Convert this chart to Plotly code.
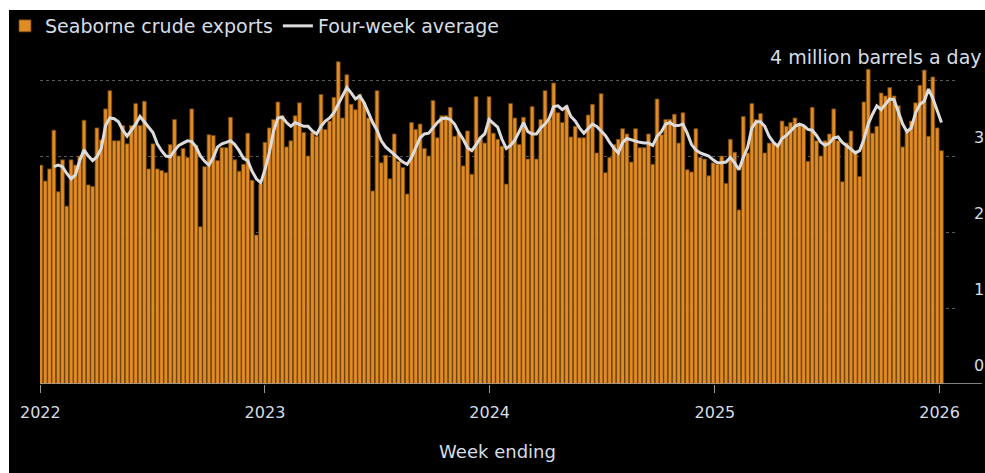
import pandas as pd
import plotly.graph_objects as go

# Weekly seaborne crude exports (million barrels a day), week ending Sundays
exports_2022 = [2.88, 2.67, 2.83, 3.34, 2.53, 2.95, 2.34, 2.95, 2.88, 3.00, 3.47, 2.62, 2.60,
                3.37, 3.21, 3.62, 3.86, 3.20, 3.20, 3.40, 3.16, 3.40, 3.69, 3.40, 3.72, 2.83,
                3.16, 2.83, 2.81, 2.78, 3.15, 3.48, 3.00, 3.10, 2.98, 3.62, 3.14, 2.07, 2.86,
                3.28, 3.27, 2.94, 3.11, 3.11, 3.51, 2.95, 2.80, 2.89, 3.30, 2.68, 1.96, 2.63]
exports_2023 = [3.18, 3.37, 3.48, 3.71, 3.53, 3.12, 3.20, 3.53, 3.70, 3.31, 3.00, 3.31, 3.26,
                3.81, 3.35, 3.46, 3.77, 4.24, 3.50, 4.07, 3.68, 3.61, 3.81, 3.70, 3.50, 2.54,
                3.86, 2.91, 3.01, 2.70, 3.29, 2.93, 2.85, 2.50, 3.44, 3.35, 3.42, 3.10, 3.00,
                3.73, 3.24, 3.53, 3.53, 3.64, 3.26, 3.31, 2.87, 3.33, 2.76, 3.78, 3.24, 3.17]
exports_2024 = [3.78, 3.30, 3.22, 3.13, 2.63, 3.69, 3.50, 3.15, 3.51, 2.96, 3.65, 2.96, 3.48,
                3.86, 3.48, 3.96, 3.57, 3.44, 3.66, 3.25, 3.39, 3.24, 3.24, 3.54, 3.68, 3.04,
                3.82, 2.78, 2.98, 3.15, 3.22, 3.36, 3.29, 2.92, 3.36, 3.11, 3.11, 3.29, 2.89,
                3.75, 3.28, 3.48, 3.48, 3.55, 3.17, 3.57, 2.82, 2.79, 3.36, 2.98, 2.96, 2.74]
exports_2025 = [2.91, 2.89, 3.00, 2.64, 3.22, 3.05, 2.29, 3.52, 3.04, 3.69, 3.48, 3.56, 3.04,
                3.17, 3.17, 3.15, 3.46, 3.39, 3.44, 3.50, 3.42, 3.39, 2.93, 3.64, 3.20, 3.00,
                3.20, 3.29, 3.62, 3.20, 2.66, 3.17, 3.33, 3.07, 2.73, 3.71, 4.14, 3.30, 3.39,
                3.83, 3.79, 3.90, 3.79, 3.66, 3.12, 3.35, 3.46, 3.70, 3.93, 4.13, 3.26, 4.04,
                3.37, 3.07]

# Four-week average line
avg_2022 = [None, None, None, 2.86, 2.88, 2.86, 2.77, 2.70, 2.75, 2.94, 3.08, 3.00, 2.94,
            2.99, 3.10, 3.40, 3.50, 3.49, 3.45, 3.34, 3.26, 3.34, 3.42, 3.52, 3.45, 3.38,
            3.31, 3.16, 3.07, 3.00, 2.99, 3.07, 3.14, 3.17, 3.20, 3.19, 3.12, 3.00, 2.93,
            2.88, 2.98, 3.12, 3.16, 3.18, 3.20, 3.15, 3.07, 2.97, 2.94, 2.80, 2.70, 2.65]
avg_2023 = [2.82, 3.04, 3.33, 3.50, 3.51, 3.44, 3.39, 3.44, 3.42, 3.39, 3.39, 3.33, 3.29,
            3.39, 3.46, 3.50, 3.57, 3.68, 3.79, 3.90, 3.83, 3.75, 3.79, 3.70, 3.57, 3.44,
            3.34, 3.20, 3.12, 3.07, 3.02, 2.98, 2.92, 2.89, 2.98, 3.11, 3.24, 3.29, 3.30,
            3.37, 3.44, 3.49, 3.50, 3.48, 3.42, 3.31, 3.22, 3.11, 3.07, 3.15, 3.24, 3.29]
avg_2024 = [3.48, 3.43, 3.38, 3.22, 3.10, 3.14, 3.21, 3.32, 3.44, 3.32, 3.29, 3.29, 3.37,
            3.42, 3.50, 3.65, 3.66, 3.61, 3.65, 3.52, 3.46, 3.37, 3.30, 3.36, 3.42, 3.39,
            3.33, 3.27, 3.18, 3.10, 3.04, 3.18, 3.23, 3.21, 3.20, 3.18, 3.17, 3.17, 3.14,
            3.26, 3.32, 3.42, 3.44, 3.40, 3.40, 3.42, 3.30, 3.15, 3.08, 3.04, 3.02, 3.00]
avg_2025 = [2.95, 2.91, 2.91, 2.92, 2.98, 2.91, 2.82, 2.98, 3.11, 3.37, 3.45, 3.45, 3.39,
            3.26, 3.18, 3.13, 3.23, 3.27, 3.33, 3.39, 3.42, 3.40, 3.35, 3.34, 3.27, 3.18,
            3.14, 3.17, 3.24, 3.25, 3.18, 3.14, 3.09, 3.04, 3.07, 3.22, 3.42, 3.55, 3.66,
            3.61, 3.68, 3.75, 3.74, 3.58, 3.42, 3.32, 3.37, 3.57, 3.68, 3.72, 3.88, 3.76,
            3.61, 3.44]

y_tick_values = [0, 1, 2, 3, 4]
y_tick_labels = ["0", "1", "2", "3", ""]
unit_label = "4 million barrels a day"

exports = exports_2022 + exports_2023 + exports_2024 + exports_2025
average = avg_2022 + avg_2023 + avg_2024 + avg_2025
weeks = pd.date_range("2022-01-02", periods=len(exports), freq="7D")

TEXT = "#d6dde5"
FONT = "DejaVu Sans"

fig = go.Figure()
fig.add_trace(go.Bar(
    x=weeks, y=exports, name="Seaborne crude exports",
    marker=dict(color="#e08b24", line=dict(color="#6e4411", width=0.8)),
))
fig.add_trace(go.Scatter(
    x=weeks, y=average, name="Four-week average", mode="lines",
    line=dict(color="#dcdcdc", width=3), connectgaps=False,
))

L, R, T, B = 40, 30, 60, 89
W, H = 985, 473
pw = W - L - R
ph = H - T - B

fig.update_layout(
    width=W, height=H,
    margin=dict(l=L, r=R, t=T, b=B, autoexpand=False),
    paper_bgcolor="black", plot_bgcolor="black",
    bargap=0.12,
    font=dict(family=FONT, color=TEXT, size=16),
    showlegend=True,
    legend=dict(orientation="h", xref="container", yref="container",
                x=5 / W, y=1 - 7 / H, xanchor="left", yanchor="top",
                font=dict(size=19, color=TEXT), bgcolor="rgba(0,0,0,0)",
                itemwidth=30, tracegroupgap=0),
    xaxis=dict(
        type="date", range=["2021-12-31 12:00", "2026-01-26"], automargin=False,
        tickvals=pd.to_datetime(["2022-01-01", "2023-01-01", "2024-01-01", "2025-01-01", "2026-01-01"]),
        tickformat="%Y", ticks="outside", ticklen=8, tickcolor="#9a9a9a", tickwidth=1,
        ticklabelstandoff=6,
        showgrid=False, zeroline=False, showline=False,
        tickfont=dict(size=16, color=TEXT),
        title=dict(text="Week ending", font=dict(size=18, color=TEXT), standoff=24),
    ),
    yaxis=dict(
        side="right", range=[0, ph / 76.0], automargin=False,
        tickvals=y_tick_values, ticktext=y_tick_labels,
        ticklabelposition="outside top", ticklabelstandoff=18, ticklabelshift=-7,
        showgrid=True, gridcolor="#5a5a5a", griddash="dot", gridwidth=1,
        zeroline=False, showline=False, ticks="",
        tickfont=dict(size=16, color=TEXT),
    ),
)

# unit label on top gridline
fig.add_annotation(text=unit_label, xref="paper", yref="y", x=(984 - L) / pw, y=4,
                   xanchor="right", yanchor="bottom", yshift=10, showarrow=False,
                   font=dict(size=19, color=TEXT))

# baseline extending under the axis labels
fig.add_shape(type="line", xref="paper", yref="y", x0=0, x1=(982 - L) / pw, y0=0, y1=0,
              line=dict(color="#a8a8a8", width=1.5), layer="above")

# white frame strips at the top and left of the picture
fig.add_shape(type="rect", xref="paper", yref="paper",
              x0=-L / pw - 0.01, x1=(W - L) / pw + 0.01, y0=1 + (T - 10) / ph, y1=1 + T / ph + 0.01,
              fillcolor="white", line=dict(width=0), layer="above")
fig.add_shape(type="rect", xref="paper", yref="paper",
              x0=-L / pw - 0.01, x1=(9 - L) / pw, y0=-B / ph - 0.01, y1=1 + T / ph + 0.01,
              fillcolor="white", line=dict(width=0), layer="above")

fig.write_html("out.html", config={"displayModeBar": False},
               post_script="document.body.style.margin='0';document.body.style.overflow='hidden';")
